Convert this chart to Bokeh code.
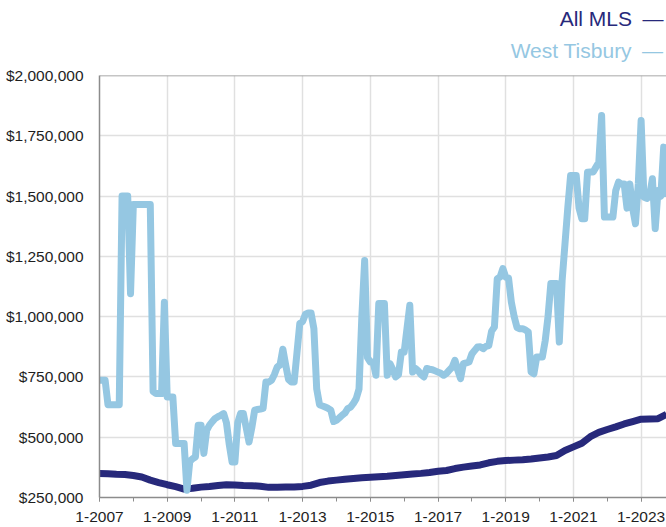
from bokeh.plotting import figure
from bokeh.models import FixedTicker, NumeralTickFormatter, Span, Range1d, Title
from bokeh.embed import file_html
from bokeh.resources import INLINE

NAVY = "#27297b"
LIGHT = "#95c7e2"
AXIS = "#8c8c8c"
GRID = "#e0e0e0"
FONT = "Liberation Sans"

# x values are in years (Jan 2007 = 2007.0), monthly series
start_year = 2007

# West Tisbury monthly values, Jan 2007 .. Oct 2023
wt_2007 = [736000, 736000, 736000, 635000, 635000, 635000, 635000, 635000, 1500000, 1500000, 1500000, 1095000]
wt_2008 = [1465000, 1465000, 1465000, 1465000, 1465000, 1465000, 1465000, 690000, 681000, 681000, 681000, 1060000]
wt_2009 = [667000, 667000, 667000, 474000, 474000, 474000, 474000, 280000, 400000, 411000, 418000, 550000]
wt_2010 = [550000, 433000, 529000, 550000, 565000, 578000, 585000, 591000, 598000, 560000, 470000, 397000]
wt_2011 = [397000, 560000, 598000, 598000, 540000, 480000, 540000, 612000, 615000, 617000, 620000, 729000]
wt_2012 = [729000, 736000, 760000, 791000, 800000, 865000, 800000, 740000, 729000, 729000, 850000, 971000]
wt_2013 = [980000, 1010000, 1015000, 1015000, 950000, 700000, 635000, 630000, 625000, 620000, 612000, 565000]
wt_2014 = [570000, 580000, 591000, 600000, 619000, 625000, 640000, 660000, 700000, 1000000, 1233000, 830000]
wt_2015 = [812000, 812000, 757000, 1054000, 1054000, 1054000, 757000, 805000, 780000, 750000, 760000, 853000]
wt_2016 = [853000, 950000, 1047000, 770000, 785000, 775000, 760000, 750000, 785000, 782000, 780000, 775000]
wt_2017 = [770000, 765000, 757000, 765000, 778000, 790000, 819000, 778000, 743000, 805000, 808000, 812000]
wt_2018 = [845000, 860000, 874000, 875000, 867000, 877000, 880000, 940000, 957000, 1157000, 1164000, 1199000]
wt_2019 = [1164000, 1160000, 1060000, 1000000, 955000, 950000, 950000, 945000, 936000, 770000, 763000, 833000]
wt_2020 = [833000, 833000, 900000, 1000000, 1137000, 1137000, 1137000, 895000, 1150000, 1300000, 1450000, 1585000]
wt_2021 = [1585000, 1585000, 1450000, 1406000, 1406000, 1599000, 1600000, 1600000, 1620000, 1640000, 1834000, 1413000]
wt_2022 = [1413000, 1413000, 1413000, 1523000, 1558000, 1550000, 1550000, 1450000, 1550000, 1450000, 1385000, 1550000]
wt_2023 = [1813000, 1496000, 1490000, 1500000, 1572000, 1365000, 1523000, 1500000, 1703000, 1496000]

west_tisbury = (wt_2007 + wt_2008 + wt_2009 + wt_2010 + wt_2011 + wt_2012 + wt_2013 + wt_2014 +
                wt_2015 + wt_2016 + wt_2017 + wt_2018 + wt_2019 + wt_2020 + wt_2021 + wt_2022 + wt_2023)
wt_x = [start_year + i / 12 for i in range(len(west_tisbury))]

# All MLS, read every 3 months from Jan 2007
all_mls = [350000, 348000, 346000, 345000, 341000, 335000, 322000, 312000,
           303000, 295000, 285000, 288000, 293000, 296000, 300000, 303000,
           302000, 300000, 299000, 297000, 292000, 293000, 294000, 294000,
           296000, 301000, 312000, 318000, 322000, 326000, 329000, 332000,
           334000, 336000, 338000, 341000, 344000, 347000, 350000, 354000,
           359000, 362000, 370000, 376000, 381000, 385000, 394000, 400000,
           403000, 405000, 407000, 410000, 414000, 418000, 424000, 445000,
           460000, 475000, 502000, 520000, 532000, 543000, 555000, 565000,
           575000, 576000, 577000, 595000]
mls_x = [start_year + 3 * i / 12 for i in range(len(all_mls))]

x_ticks = [2007, 2009, 2011, 2013, 2015, 2017, 2019, 2021, 2023]
x_tick_labels = ["1-2007", "1-2009", "1-2011", "1-2013", "1-2015", "1-2017", "1-2019", "1-2021", "1-2023"]
x_minor = list(range(2007, 2025))
y_ticks = [250000, 500000, 750000, 1000000, 1250000, 1500000, 1750000, 2000000]

series_names = ["All MLS", "West Tisbury"]
series_colors = [NAVY, LIGHT]
title_standoffs = [-14, 28]

x_end = 2023.75
p = figure(width=666, height=527, output_backend="svg", toolbar_location=None,
           x_range=Range1d(2007, x_end), y_range=Range1d(250000, 2000000),
           min_border_left=99, min_border_right=0, min_border_top=75, min_border_bottom=30)
p.outline_line_color = None
p.background_fill_color = "white"
p.border_fill_color = "white"

p.line(mls_x, all_mls, line_color=NAVY, line_width=7, line_join="round")
p.line(wt_x, west_tisbury, line_color=LIGHT, line_width=7, line_join="round")

# axes
p.xaxis.ticker = FixedTicker(ticks=x_ticks, minor_ticks=x_minor)
p.xaxis.major_label_overrides = {t: l for t, l in zip(x_ticks, x_tick_labels)}
p.xaxis.major_tick_in = 0
p.xaxis.major_tick_out = 4
p.xaxis.minor_tick_in = 0
p.xaxis.minor_tick_out = 4
p.xaxis.major_tick_line_color = AXIS
p.xaxis.minor_tick_line_color = AXIS
p.xaxis.major_label_standoff = 10

p.yaxis.ticker = FixedTicker(ticks=y_ticks)
p.yaxis.formatter = NumeralTickFormatter(format="$0,0")
p.yaxis.major_tick_line_color = None
p.yaxis.minor_tick_line_color = None
p.yaxis.major_tick_out = 0
p.yaxis.major_tick_in = 0
p.yaxis.minor_tick_out = 0
p.yaxis.minor_tick_in = 0
p.yaxis.major_label_standoff = 16

for ax in (p.xaxis, p.yaxis):
    ax.axis_line_color = AXIS
    ax.axis_line_width = 1.5
    ax.major_label_text_font = FONT
    ax.major_label_text_font_size = "15.5px"
    ax.major_label_text_color = "#1e1e1e"

p.xgrid.grid_line_color = GRID
p.xgrid.grid_line_width = 1.5
p.ygrid.grid_line_color = GRID
p.ygrid.grid_line_width = 1.5

p.add_layout(Span(location=2000000, dimension="width", line_color=AXIS, line_width=1.5))

# legend-like titles at top right (name followed by a dash in the series colour)
for name, col, so in reversed(list(zip(series_names, series_colors, title_standoffs))):
    p.add_layout(Title(text=name + "\u2002\u2014", align="right", text_color=col,
                       text_font=FONT, text_font_size="21px", text_font_style="normal",
                       standoff=so, offset=3), "above")

open("out.html", "w").write(file_html(p, INLINE))
